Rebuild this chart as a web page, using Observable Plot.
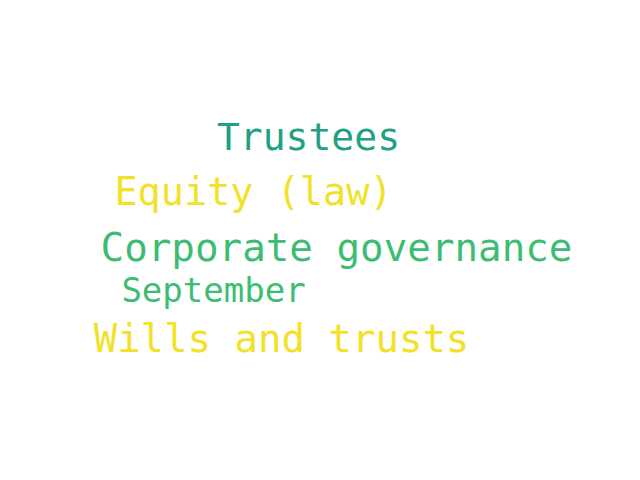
<!DOCTYPE html>
<html>
<head>
<meta charset="utf-8">
<script src="https://cdn.jsdelivr.net/npm/d3@7"></script>
<script src="https://cdn.jsdelivr.net/npm/@observablehq/plot@0.6"></script>
<style>
  body { margin: 0; padding: 0; background: #fff; }
</style>
</head>
<body>
<div id="chart"></div>
<script>
  // word cloud: words with their layout spot and weight
  const words = ["Trustees", "Equity (law)", "Corporate governance", "September", "Wills and trusts"]
  const cx = [308, 253, 336, 213, 281]
  const cy = [137, 192, 248, 291, 339]
  const sizes = [38, 38.5, 39.2, 34, 39]
  const colors = ["#21a085", "#f2e227", "#3dbc74", "#3dbc74", "#f2e227"]

  const data = words.map((w, i) => ({word: w, x: cx[i], y: cy[i], size: sizes[i], color: colors[i]}))

  const chart = Plot.plot({
    width: 640,
    height: 480,
    margin: 0,
    x: {domain: [0, 640], axis: null},
    y: {domain: [0, 480], axis: null, reverse: true},
    marks: [
      Plot.text(data, {
        x: "x", y: "y", text: "word",
        fontSize: d => d.size,
        fill: d => d.color,
        fontFamily: "DejaVu Sans Mono",
        textAnchor: "middle",
        lineAnchor: "middle"
      })
    ]
  })
  document.querySelector("#chart").append(chart)
</script>
</body>
</html>
